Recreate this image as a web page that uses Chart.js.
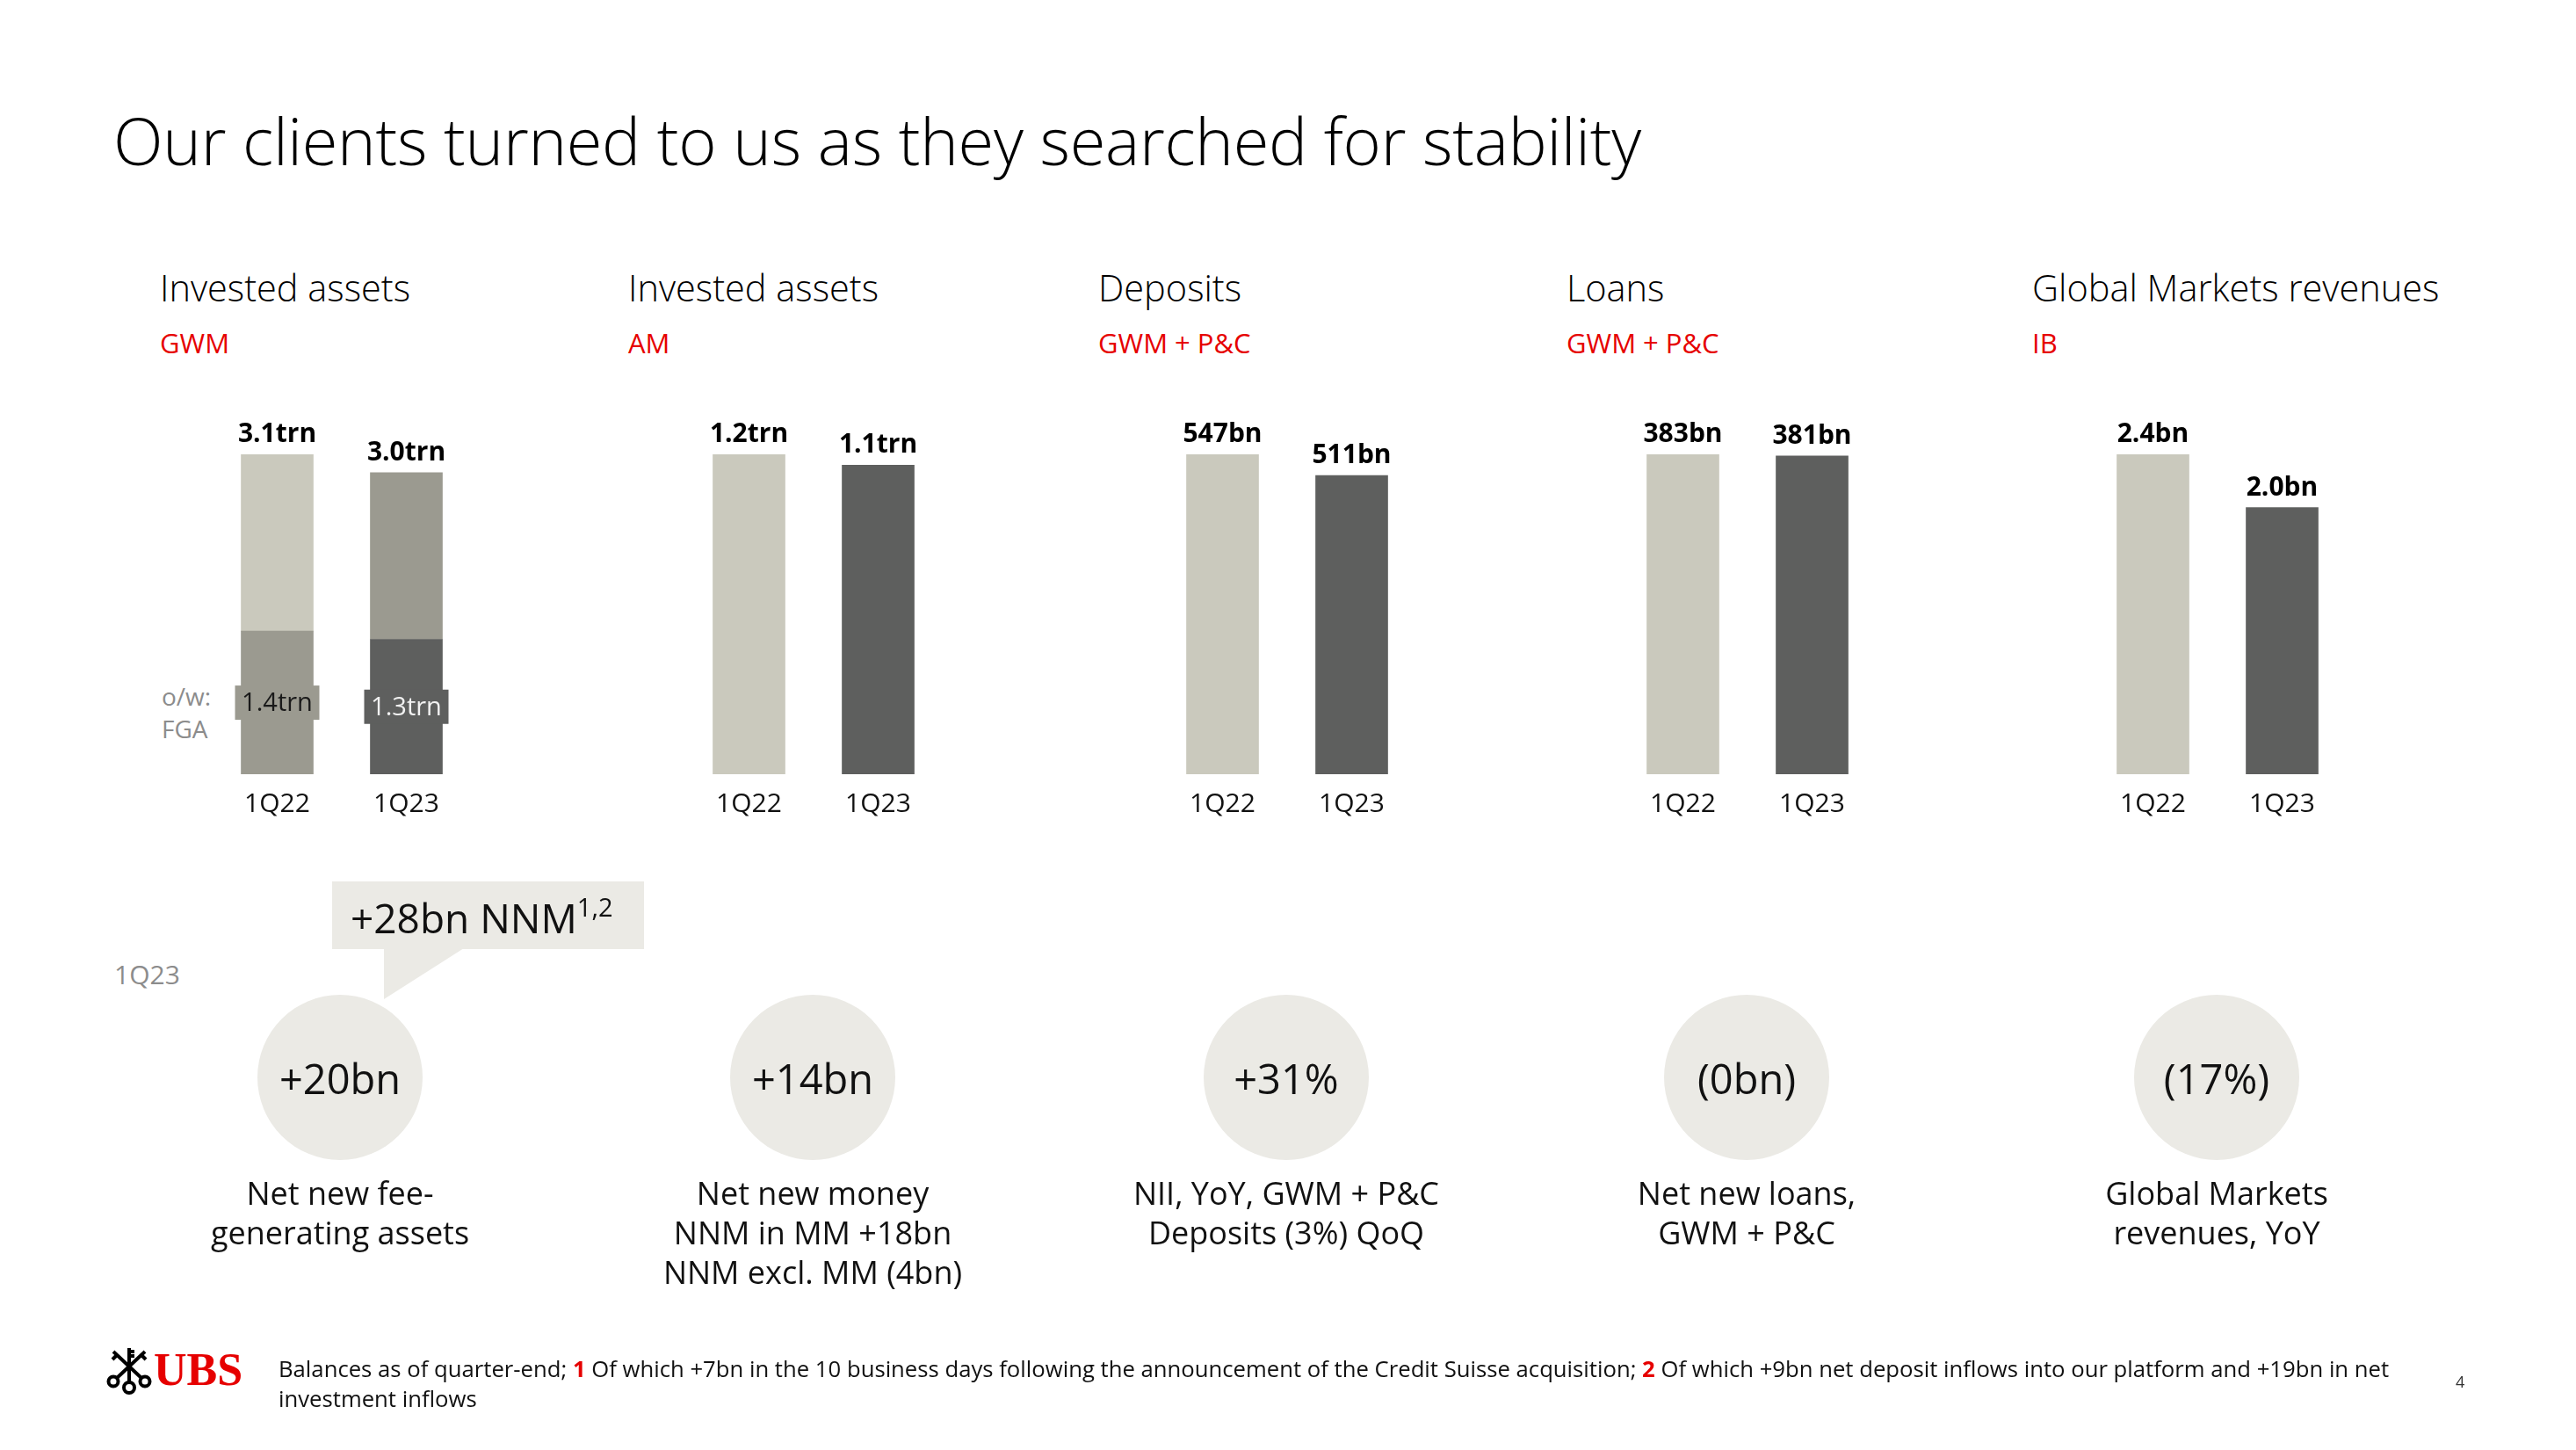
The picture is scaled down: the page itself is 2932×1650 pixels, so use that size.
<!DOCTYPE html>
<html><head><meta charset="utf-8">
<script src="https://cdn.jsdelivr.net/npm/chart.js@4.4.0/dist/chart.umd.min.js"></script>
<style>
html,body{margin:0;padding:0;background:#fff;}
body{width:2932px;height:1650px;position:relative;overflow:hidden;font-family:"Open Sans",sans-serif;color:#000;}
.abs{position:absolute;white-space:nowrap;line-height:1;}
.hdr{font-size:41.5px;font-weight:300;color:#000;}
.sub{font-size:31px;color:#e60000;}
.bubble{position:absolute;width:188px;height:188px;border-radius:50%;background:#ebeae5;}
.bval{position:absolute;width:300px;text-align:center;font-size:47px;line-height:47px;color:#111;}
.desc{position:absolute;width:500px;text-align:center;font-size:36px;line-height:45px;color:#111;white-space:nowrap;}
canvas{position:absolute;}
</style>
</head><body>
<div id="root"></div>
<script>
// ---------- DATA ----------
const categories = ['1Q22', '1Q23'];
const gwmFga = [1.40, 1.32];
const gwmOther = [1.73, 1.63];
const gwmLabels = ['3.1trn', '3.0trn'];
const gwmFgaLabels = ['1.4trn', '1.3trn'];
const amValues = [1.18, 1.14];
const amLabels = ['1.2trn', '1.1trn'];
const depositValues = [547, 511];
const depositLabels = ['547bn', '511bn'];
const loanValues = [383, 381];
const loanLabels = ['383bn', '381bn'];
const gmValues = [2.4, 2.0];
const gmLabels = ['2.4bn', '2.0bn'];
const panelTitles = ['Invested assets', 'Invested assets', 'Deposits', 'Loans', 'Global Markets revenues'];
const panelSubtitles = ['GWM', 'AM', 'GWM + P&C', 'GWM + P&C', 'IB'];
const bubbleValues = ['+20bn', '+14bn', '+31%', '(0bn)', '(17%)'];
const bubbleDescriptions = [
  ['Net new fee-', 'generating assets'],
  ['Net new money', 'NNM in MM +18bn', 'NNM excl. MM (4bn)'],
  ['NII, YoY, GWM + P&C', 'Deposits (3%) QoQ'],
  ['Net new loans,', 'GWM + P&C'],
  ['Global Markets', 'revenues, YoY']
];

// ---------- STYLE ----------
const LIGHT = '#cac9bd', MID = '#9b9a90', DARK = '#5e5f5e';
const FONT = '"Open Sans", sans-serif';
const headerX = [182, 715, 1250, 1783, 2313];
const chartLeft = [242, 779, 1318, 1842, 2377];
const bubbleX = [387, 925, 1464, 1988, 2523];
const CH_TOP = 440, CH_W = 294, CH_H = 520, PAD_TOP = 77;

const root = document.getElementById('root');
function addDiv(cls, html, style) {
  const d = document.createElement('div');
  d.className = cls; d.innerHTML = html; Object.assign(d.style, style); root.appendChild(d); return d;
}

// Title
addDiv('abs', 'Our clients turned to us as they searched for stability',
  {left: '129px', top: '123px', fontSize: '74px', fontWeight: '300', letterSpacing: '-0.3px'});

// Headers
for (let i = 0; i < 5; i++) {
  addDiv('abs hdr', panelTitles[i], {left: headerX[i] + 'px', top: '307px'});
  addDiv('abs sub', panelSubtitles[i].replace('&', '&amp;'), {left: headerX[i] + 'px', top: '375px'});
}
// o/w FGA
addDiv('abs', 'o/w:', {left: '184px', top: '778px', fontSize: '28px', color: '#8c8c8c'});
addDiv('abs', 'FGA', {left: '184px', top: '815px', fontSize: '28px', color: '#8c8c8c'});

// Value label plugin
const valueLabelPlugin = {
  id: 'valueLabels',
  afterDatasetsDraw(chart, args, opts) {
    const ctx = chart.ctx;
    const n = chart.data.datasets.length;
    const meta = chart.getDatasetMeta(n - 1);
    ctx.save();
    ctx.font = 'bold 30px ' + FONT;
    ctx.fillStyle = '#000';
    ctx.textAlign = 'center';
    ctx.textBaseline = 'alphabetic';
    meta.data.forEach((el, i) => {
      ctx.fillText(opts.labels[i], el.x, el.y - 14);
    });
    ctx.restore();
  }
};
const fgaBoxPlugin = {
  id: 'fgaBox',
  afterDatasetsDraw(chart, args, opts) {
    if (!opts.labels) return;
    const ctx = chart.ctx;
    const meta = chart.getDatasetMeta(0);
    ctx.save();
    ctx.font = '29px ' + FONT;
    ctx.textAlign = 'center';
    ctx.textBaseline = 'middle';
    meta.data.forEach((el, i) => {
      const cy = (el.y + el.base) / 2;
      const w = el.width + 14, h = 39;
      ctx.fillStyle = opts.boxColors[i];
      ctx.fillRect(el.x - w / 2, cy - h / 2, w, h);
      ctx.fillStyle = opts.textColors[i];
      ctx.fillText(opts.labels[i], el.x, cy + 1);
    });
    ctx.restore();
  }
};

function makeChart(idx, datasets, labels, yMax, fga) {
  const c = document.createElement('canvas');
  c.width = CH_W; c.height = CH_H;
  c.style.left = chartLeft[idx] + 'px'; c.style.top = CH_TOP + 'px';
  c.style.width = CH_W + 'px'; c.style.height = CH_H + 'px';
  root.appendChild(c);
  new Chart(c.getContext('2d'), {
    type: 'bar',
    data: {labels: categories, datasets: datasets},
    options: {
      responsive: false, animation: false, devicePixelRatio: 1,
      layout: {padding: {top: PAD_TOP, bottom: 11, left: 0, right: 0}},
      datasets: {bar: {barThickness: 82, borderWidth: 0}},
      scales: {
        x: {stacked: true, grid: {display: false, drawTicks: false}, border: {display: false},
            ticks: {color: '#111', font: {family: FONT, size: 30}, padding: 16}},
        y: {stacked: true, display: false, min: 0, max: yMax}
      },
      plugins: {legend: {display: false}, tooltip: {enabled: false},
        valueLabels: {labels: labels},
        fgaBox: fga || {}}
    },
    plugins: [valueLabelPlugin, fgaBoxPlugin]
  });
}

makeChart(0, [
  {data: gwmFga, backgroundColor: [MID, DARK]},
  {data: gwmOther, backgroundColor: [LIGHT, MID]}
], gwmLabels, gwmFga[0] + gwmOther[0],
  {labels: gwmFgaLabels, boxColors: [MID, DARK], textColors: ['#1a1a1a', '#f2f2f2']});
makeChart(1, [{data: amValues, backgroundColor: [LIGHT, DARK]}], amLabels, Math.max(...amValues));
makeChart(2, [{data: depositValues, backgroundColor: [LIGHT, DARK]}], depositLabels, Math.max(...depositValues));
makeChart(3, [{data: loanValues, backgroundColor: [LIGHT, DARK]}], loanLabels, Math.max(...loanValues));
makeChart(4, [{data: gmValues, backgroundColor: [LIGHT, DARK]}], gmLabels, Math.max(...gmValues));

// Bottom section
addDiv('abs', '1Q23', {left: '130px', top: '1094px', fontSize: '30px', color: '#8c8c8c'});
// callout
addDiv('abs', '', {left: '378px', top: '1003px', width: '355px', height: '77px', background: '#ebeae5'});
const tail = document.createElementNS('http://www.w3.org/2000/svg', 'svg');
tail.setAttribute('width', '2932'); tail.setAttribute('height', '1650');
tail.style.position = 'absolute'; tail.style.left = '0'; tail.style.top = '0';
tail.innerHTML = '<polygon points="437,1079 528,1079 437,1137" fill="#ebeae5"/>';
root.appendChild(tail);
addDiv('abs', '+28bn NNM<span style="font-size:29px;position:relative;top:-19px;">1,2</span>',
  {left: '399px', top: '1021px', fontSize: '46px', color: '#111'});

for (let i = 0; i < 5; i++) {
  addDiv('bubble', '', {left: (bubbleX[i] - 94) + 'px', top: '1132px'});
  addDiv('bval', bubbleValues[i], {left: (bubbleX[i] - 150) + 'px', top: '1204px'});
  addDiv('desc', bubbleDescriptions[i].map(s => s.replace('&', '&amp;')).join('<br>'),
    {left: (bubbleX[i] - 250) + 'px', top: '1335px'});
}

// Footer
const keys = document.createElementNS('http://www.w3.org/2000/svg', 'svg');
keys.setAttribute('width', '52'); keys.setAttribute('height', '56');
keys.style.position = 'absolute'; keys.style.left = '121px'; keys.style.top = '1532px';
keys.innerHTML =
  '<g stroke="#000" stroke-width="4" fill="none">' +
  '<line x1="26" y1="2" x2="26" y2="40"/><line x1="44" y1="6" x2="11" y2="37"/><line x1="8" y1="6" x2="41" y2="37"/>' +
  '<circle cx="26" cy="47" r="6"/><circle cx="8" cy="40" r="5.5"/><circle cx="44" cy="40" r="5.5"/>' +
  '<line x1="26" y1="6" x2="32" y2="6"/><line x1="26" y1="11" x2="32" y2="11"/>' +
  '<line x1="40" y1="10" x2="45" y2="15"/><line x1="12" y1="10" x2="7" y2="15"/>' +
  '</g>';
root.appendChild(keys);
addDiv('abs', 'UBS', {left: '175px', top: '1533px', fontSize: '52px', fontFamily: '"Liberation Serif", serif', fontWeight: 'bold', color: '#e60000'});
addDiv('abs', 'Balances as of quarter-end; <b style="color:#e60000">1</b> Of which +7bn in the 10 business days following the announcement of the Credit Suisse acquisition; <b style="color:#e60000">2</b> Of which +9bn net deposit inflows into our platform and +19bn in net<br>investment inflows',
  {left: '317px', top: '1541px', fontSize: '25.7px', lineHeight: '34px', color: '#111'});
addDiv('abs', '4', {left: '2795px', top: '1563px', fontSize: '18px', color: '#333'});
</script>
</body></html>
